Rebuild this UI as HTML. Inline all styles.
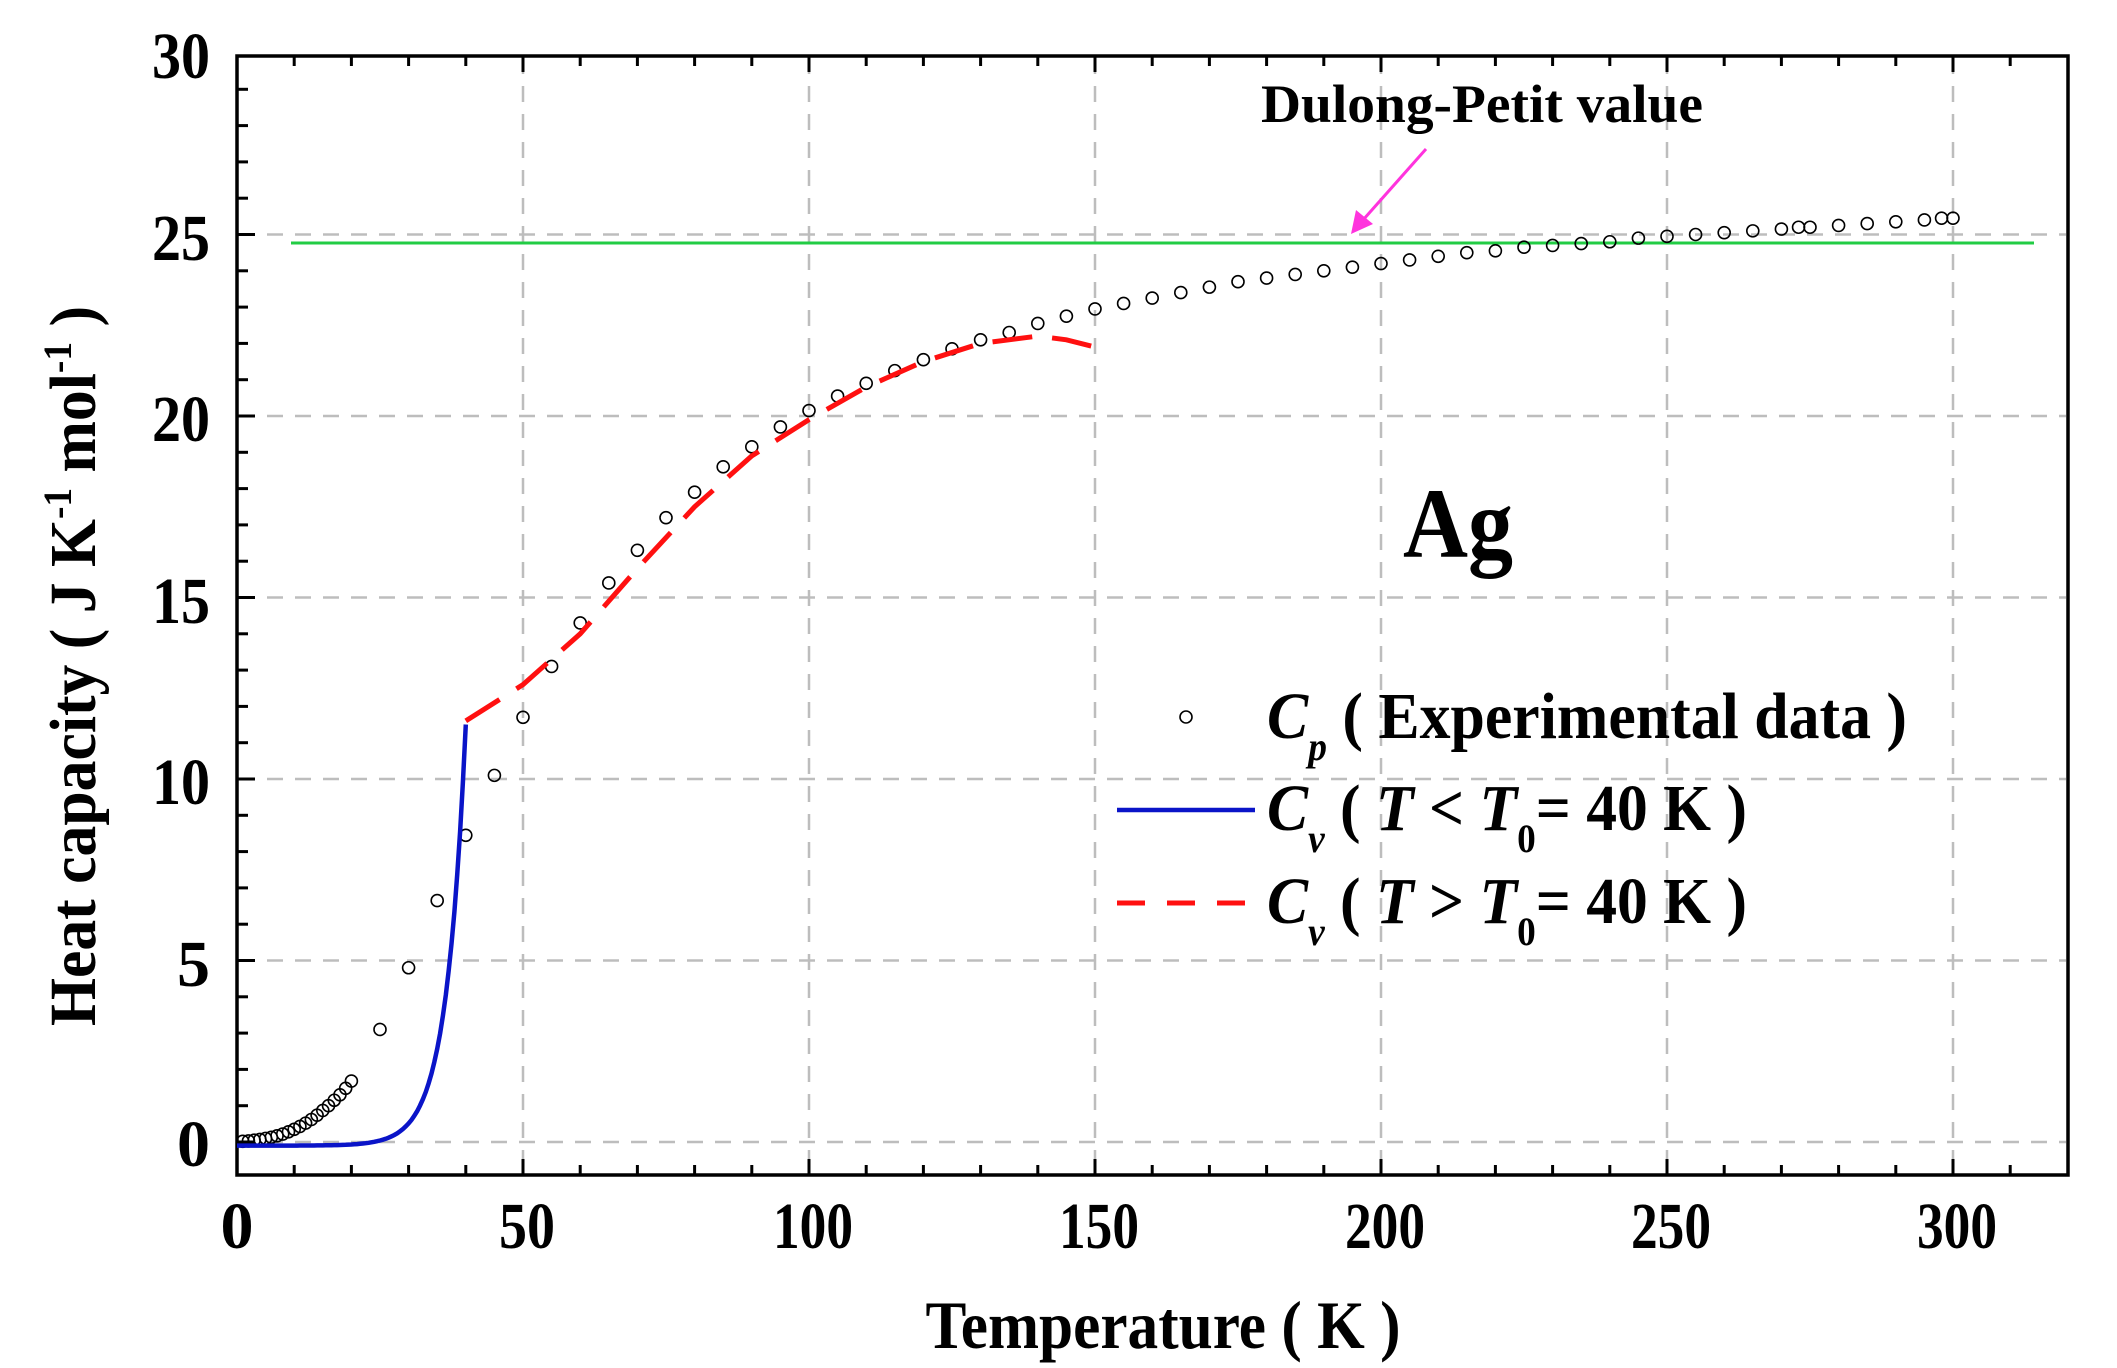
<!DOCTYPE html>
<html><head><meta charset="utf-8"><style>
html,body{margin:0;padding:0;background:#fff;width:2117px;height:1368px;overflow:hidden}
svg{display:block}
text{font-family:"Liberation Serif",serif;font-weight:bold;fill:#000}
</style></head><body>
<svg id="s" width="2117" height="1368" viewBox="0 0 2117 1368" xmlns="http://www.w3.org/2000/svg">
<g id="grid" stroke="#bdbdbd" stroke-width="2.5" stroke-dasharray="16,12" fill="none"></g>
<line x1="291" y1="243" x2="2034" y2="243" stroke="#22cc44" stroke-width="3"/>
<g id="ticks" stroke="#000" stroke-width="3"></g>
<rect x="237" y="56" width="1831" height="1119" fill="none" stroke="#000" stroke-width="3.5"/>
<g id="pts" fill="none" stroke="#000" stroke-width="1.6"></g>
<path id="blue" fill="none" stroke="#0a14c8" stroke-width="4.5"/>
<path id="red" fill="none" stroke="#ff1010" stroke-width="5" stroke-dasharray="40,20"/>
<g font-size="66" text-anchor="end">
<text x="210" y="78" textLength="58" lengthAdjust="spacingAndGlyphs">30</text>
<text x="210" y="260" textLength="58" lengthAdjust="spacingAndGlyphs">25</text>
<text x="210" y="441" textLength="58" lengthAdjust="spacingAndGlyphs">20</text>
<text x="210" y="623" textLength="58" lengthAdjust="spacingAndGlyphs">15</text>
<text x="210" y="804" textLength="58" lengthAdjust="spacingAndGlyphs">10</text>
<text x="210" y="986">5</text><text x="210" y="1166">0</text>
</g>
<g font-size="66" text-anchor="middle">
<text x="237" y="1248">0</text>
<text x="527" y="1248" textLength="56" lengthAdjust="spacingAndGlyphs">50</text>
<text x="813" y="1248" textLength="80" lengthAdjust="spacingAndGlyphs">100</text>
<text x="1099" y="1248" textLength="80" lengthAdjust="spacingAndGlyphs">150</text>
<text x="1385" y="1248" textLength="80" lengthAdjust="spacingAndGlyphs">200</text>
<text x="1671" y="1248" textLength="80" lengthAdjust="spacingAndGlyphs">250</text>
<text x="1957" y="1248" textLength="80" lengthAdjust="spacingAndGlyphs">300</text>
</g>
<text x="1163" y="1348" font-size="68" text-anchor="middle" textLength="475" lengthAdjust="spacingAndGlyphs">Temperature ( K )</text>
<text transform="translate(95,666) rotate(-90)" font-size="66" text-anchor="middle" textLength="720" lengthAdjust="spacingAndGlyphs">Heat capacity ( J K<tspan dy="-24" font-size="40">-1</tspan><tspan dy="24"> mol</tspan><tspan dy="-24" font-size="40">-1</tspan><tspan dy="24"> )</tspan></text>
<text x="1261" y="122" font-size="54" textLength="442" lengthAdjust="spacingAndGlyphs">Dulong-Petit  value</text>
<line x1="1426" y1="149" x2="1363" y2="220" stroke="#ff33dd" stroke-width="3"/>
<polygon points="1351,234 1356,210 1373,224" fill="#ff33dd"/>
<text x="1403" y="557" font-size="100" textLength="110" lengthAdjust="spacingAndGlyphs">Ag</text>
<circle cx="1186" cy="717" r="6" fill="none" stroke="#000" stroke-width="1.6"/>
<line x1="1117" y1="810" x2="1255" y2="810" stroke="#0a14c8" stroke-width="4.5"/>
<line x1="1117" y1="903" x2="1255" y2="903" stroke="#ff1010" stroke-width="5" stroke-dasharray="28,22"/>
<text x="1267" y="738" font-size="66" textLength="640" lengthAdjust="spacingAndGlyphs"><tspan font-style="italic">C</tspan><tspan font-style="italic" font-size="40" dy="22">p</tspan><tspan dy="-22">  ( Experimental  data )</tspan></text>
<text x="1267" y="830" font-size="66" textLength="480" lengthAdjust="spacingAndGlyphs"><tspan font-style="italic">C</tspan><tspan font-style="italic" font-size="40" dy="22">v</tspan><tspan dy="-22">  ( </tspan><tspan font-style="italic">T</tspan> &lt; <tspan font-style="italic">T</tspan><tspan font-size="40" dy="22">0</tspan><tspan dy="-22">= 40 K )</tspan></text>
<text x="1267" y="923" font-size="66" textLength="480" lengthAdjust="spacingAndGlyphs"><tspan font-style="italic">C</tspan><tspan font-style="italic" font-size="40" dy="22">v</tspan><tspan dy="-22">  ( </tspan><tspan font-style="italic">T</tspan> &gt; <tspan font-style="italic">T</tspan><tspan font-size="40" dy="22">0</tspan><tspan dy="-22">= 40 K )</tspan></text>
</svg>
<script>
var NS="http://www.w3.org/2000/svg";
function X(t){return 237+t*5.72}function Y(v){return 1142-v*36.3}
function el(p,n,a){var e=document.createElementNS(NS,n);for(var k in a)e.setAttribute(k,a[k]);document.getElementById(p).appendChild(e);}
for(var t=50;t<=300;t+=50)el("grid","line",{x1:X(t),y1:58,x2:X(t),y2:1173});
for(var v=0;v<=25;v+=5)el("grid","line",{x1:239,y1:Y(v),x2:2066,y2:Y(v)});
for(var t=10;t<=310;t+=10){var L=(t%50==0)?16:10;el("ticks","line",{x1:X(t),y1:1175,x2:X(t),y2:1175-L});el("ticks","line",{x1:X(t),y1:56,x2:X(t),y2:56+L});}
for(var v=0;v<=29;v++){var L=(v%5==0)?18:11;el("ticks","line",{x1:237,y1:Y(v),x2:237+L,y2:Y(v)});}
var d=[[1,0.02],[2,0.03],[3,0.05],[4,0.07],[5,0.1],[6,0.13],[7,0.17],[8,0.22],[9,0.28],[10,0.35],[11,0.43],[12,0.52],[13,0.62],[14,0.74],[15,0.87],[16,1.0],[17,1.15],[18,1.3],[19,1.48],[20,1.68],[25,3.1],[30,4.8],[35,6.65],[40,8.45],[45,10.1],[50,11.7],[55,13.1],[60,14.3],[65,15.4],[70,16.3],[75,17.2],[80,17.9],[85,18.6],[90,19.15],[95,19.7],[100,20.15],[105,20.55],[110,20.9],[115,21.25],[120,21.55],[125,21.85],[130,22.1],[135,22.3],[140,22.55],[145,22.75],[150,22.95],[155,23.1],[160,23.25],[165,23.4],[170,23.55],[175,23.7],[180,23.8],[185,23.9],[190,24.0],[195,24.1],[200,24.2],[205,24.3],[210,24.4],[215,24.5],[220,24.55],[225,24.65],[230,24.7],[235,24.75],[240,24.8],[245,24.9],[250,24.95],[255,25.0],[260,25.05],[265,25.1],[270,25.15],[273,25.2],[275,25.2],[280,25.25],[285,25.3],[290,25.35],[295,25.4],[298,25.45],[300,25.45]];
d.forEach(function(p){el("pts","circle",{cx:X(p[0]),cy:Y(p[1]),r:6});});
var b="";for(var t=0;t<=40;t+=0.5){var v=Math.max(-0.1,11.6*Math.exp((t-40)/3.4)-0.1);b+=(t==0?"M":"L")+X(t).toFixed(1)+","+Y(v).toFixed(1);}
document.getElementById("blue").setAttribute("d",b);
var r=[[40,11.6],[50,12.6],[60,14.0],[70,15.8],[80,17.5],[90,18.9],[100,19.9],[110,20.8],[120,21.5],[130,22.0],[140,22.2],[145,22.1],[150,21.9]];
var s="";r.forEach(function(p,i){s+=(i?"L":"M")+X(p[0]).toFixed(1)+","+Y(p[1]).toFixed(1);});
document.getElementById("red").setAttribute("d",s);
</script>
</body></html>
